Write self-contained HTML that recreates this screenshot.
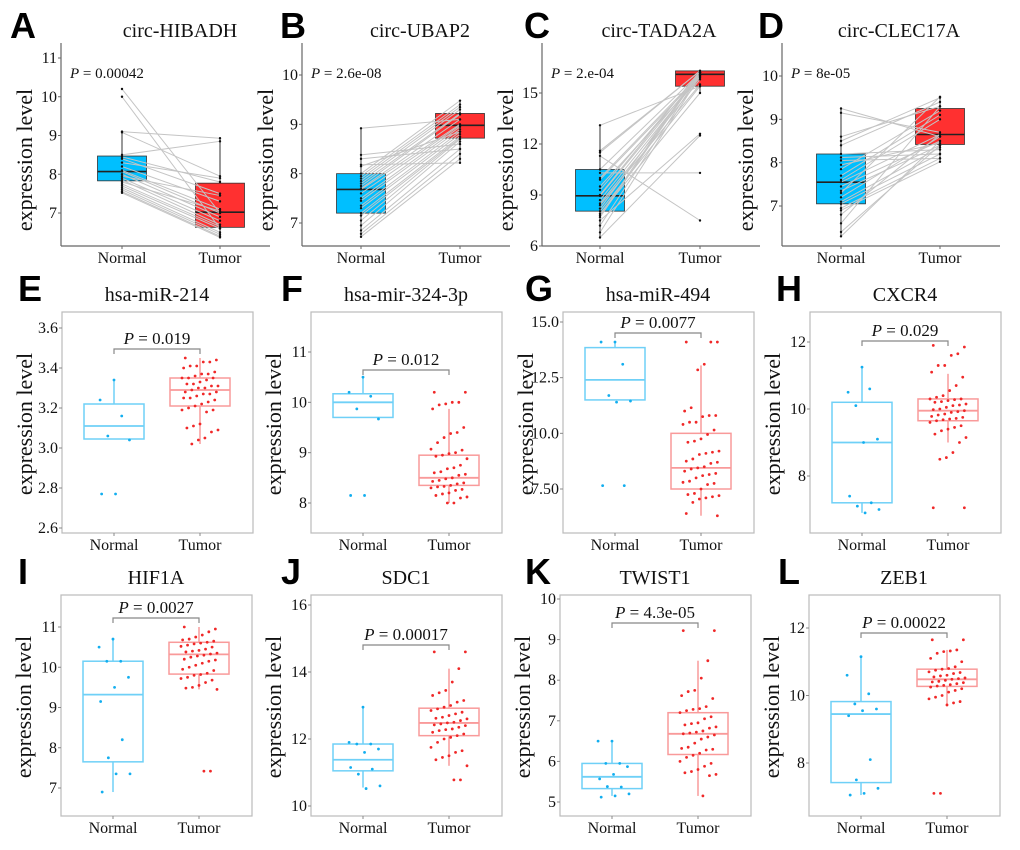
<!DOCTYPE html>
<html><head><meta charset="utf-8"><style>
html,body{margin:0;padding:0;background:#fff;}
svg{display:block;}
text{font-family:"Liberation Serif","DejaVu Serif",serif;fill:#111;}
text.lt{font-family:"Liberation Sans",sans-serif;font-weight:bold;font-size:36px;fill:#000;}
</style></head><body>
<svg id="fig" width="1020" height="850" viewBox="0 0 1020 850" xmlns="http://www.w3.org/2000/svg" font-family="'Liberation Serif', serif"></svg>
<script>
// ---------- Row 1 paired data ----------
const aNormal=[10.2,10.0,9.1,9.08,8.5,8.45,8.4,8.3,8.2,8.1,8.07,8.0,7.95,7.9,7.85,7.8,7.75,7.7,7.65,7.6,7.55,7.52];
const aTumor=[7.0,6.6,8.93,7.95,8.85,7.8,7.5,7.9,7.3,7.1,7.0,6.9,7.45,6.8,6.7,7.05,6.65,6.6,6.5,6.45,6.4,6.37];
const aNormalBox=[7.52,7.83,8.07,8.47,9.08];
const aTumorBox=[6.37,6.63,7.02,7.77,8.93];
const bNormal=[8.92,8.38,8.3,8.18,8.15,8.0,7.95,7.9,7.85,7.8,7.75,7.7,7.68,7.6,7.5,7.45,7.35,7.3,7.2,7.15,7.05,6.95,6.85,6.78,6.72];
const bTumor=[9.1,8.6,8.5,8.22,8.85,9.48,9.4,9.35,9.3,9.22,9.2,9.1,9.0,8.98,8.95,8.9,8.85,8.8,8.75,8.72,8.7,8.65,8.5,8.4,8.3];
const bNormalBox=[6.72,7.2,7.68,8.0,8.92];
const bTumorBox=[8.22,8.72,8.98,9.22,9.48];
const cNormal=[13.1,11.6,11.5,11.3,10.5,10.3,10.0,9.9,9.5,9.3,9.0,8.95,8.7,8.5,8.4,8.2,8.05,7.9,7.8,7.7,7.5,7.2,6.8,6.5];
const cTumor=[15.4,16.3,16.3,7.5,16.2,10.3,16.1,16.0,15.9,16.2,16.3,16.1,16.0,15.8,15.5,16.2,15.4,15.0,16.3,16.2,12.6,16.1,16.0,12.5];
const cNormalBox=[6.5,8.05,8.95,10.5,13.1];
const cTumorBox=[15.0,15.4,16.1,16.3,16.3];
const dNormal=[9.25,9.15,8.6,8.5,8.4,8.2,8.12,8.05,7.95,7.85,7.7,7.6,7.55,7.45,7.35,7.3,7.2,7.1,7.05,6.95,6.9,6.8,6.6,6.4,6.3];
const dTumor=[8.6,8.7,9.3,9.5,9.4,8.3,8.2,8.1,8.45,9.2,9.1,9.0,8.65,8.5,8.4,9.52,8.6,8.35,8.2,8.1,8.02,8.65,9.3,8.4,8.5];
const dNormalBox=[6.3,7.05,7.55,8.2,9.25];
const dTumorBox=[8.02,8.42,8.65,9.25,9.52];
// ---------- Rows 2-3 data ----------
const eNormalBox=[3.045,3.045,3.11,3.22,3.34], eTumorBox=[3.02,3.21,3.29,3.35,3.45];
const eNormalPts=[3.34,3.24,3.16,3.06,3.04,2.77,2.77];
const eTumorPts=[3.45,3.44,3.43,3.43,3.41,3.41,3.40,3.38,3.37,3.37,3.36,3.35,3.35,3.35,3.34,3.33,3.32,3.32,3.31,3.31,3.30,3.30,3.29,3.28,3.28,3.27,3.27,3.26,3.25,3.25,3.24,3.23,3.22,3.21,3.20,3.19,3.19,3.18,3.12,3.11,3.10,3.09,3.08,3.05,3.04,3.02];
const fNormalBox=[9.7,9.7,10.0,10.17,10.5], fTumorBox=[8.0,8.35,8.5,8.95,9.87];
const fNormalPts=[10.5,10.2,10.12,9.87,9.67,8.15,8.15];
const fTumorPts=[10.2,10.2,10.0,10.0,9.97,9.95,9.87,9.5,9.4,9.38,9.3,9.2,9.07,9.05,9.0,8.98,8.95,8.93,8.88,8.75,8.7,8.68,8.62,8.6,8.57,8.55,8.5,8.48,8.45,8.43,8.4,8.38,8.35,8.33,8.32,8.3,8.27,8.25,8.2,8.18,8.15,8.12,8.1,8.0,8.0];
const gNormalBox=[11.5,11.5,12.4,13.85,14.1], gTumorBox=[6.3,7.5,8.45,10.0,13.05];
const gNormalPts=[14.1,14.1,13.1,11.7,11.45,11.4,7.65,7.65];
const gTumorPts=[14.1,14.1,14.1,13.1,12.85,11.15,11.0,10.8,10.8,10.75,10.5,10.5,10.4,10.15,9.95,9.75,9.65,9.6,9.2,9.15,9.1,9.05,8.85,8.75,8.7,8.65,8.5,8.45,8.4,8.3,8.2,8.15,8.1,8.0,7.85,7.8,7.75,7.7,7.5,7.3,7.25,7.2,7.15,7.1,7.05,6.9,6.4,6.3];
const hNormalBox=[6.9,7.2,9.0,10.2,11.25], hTumorBox=[9.0,9.65,9.95,10.3,11.05];
const hNormalPts=[11.25,10.5,10.6,10.1,9.1,9.0,7.4,7.2,7.1,7.0,6.9];
const hTumorPts=[11.9,11.85,11.65,11.6,11.3,11.3,11.1,10.95,10.7,10.55,10.4,10.35,10.3,10.3,10.28,10.25,10.22,10.2,10.15,10.12,10.1,10.05,10.0,9.98,9.95,9.92,9.9,9.85,9.82,9.78,9.75,9.72,9.7,9.68,9.65,9.6,9.5,9.45,9.4,9.35,9.25,9.15,9.0,8.7,8.55,8.5,7.05,7.05];
const iNormalBox=[6.9,7.65,9.32,10.15,10.7], iTumorBox=[9.45,9.83,10.32,10.62,11.0];
const iNormalPts=[10.7,10.5,10.15,10.15,9.75,9.5,9.15,8.2,7.75,7.35,7.35,6.9];
const iTumorPts=[11.0,10.95,10.88,10.8,10.75,10.7,10.68,10.65,10.62,10.6,10.58,10.55,10.52,10.5,10.45,10.42,10.4,10.38,10.35,10.33,10.3,10.28,10.25,10.2,10.18,10.15,10.1,10.05,10.0,9.95,9.92,9.85,9.82,9.8,9.75,9.72,9.68,9.62,9.55,9.5,9.48,9.45,7.42,7.42];
const jNormalBox=[10.55,11.05,11.38,11.85,12.95], jTumorBox=[11.2,12.1,12.48,12.92,14.1];
const jNormalPts=[12.95,11.9,11.85,11.85,11.7,11.6,11.15,11.1,10.95,10.6,10.52];
const jTumorPts=[14.6,14.6,14.1,13.7,13.45,13.38,13.3,13.15,13.1,13.0,12.95,12.9,12.85,12.8,12.75,12.7,12.65,12.62,12.6,12.55,12.5,12.48,12.45,12.42,12.4,12.35,12.3,12.28,12.25,12.2,12.15,12.1,12.05,12.0,11.9,11.75,11.65,11.6,11.5,11.45,11.38,11.2,10.78,10.78];
const kNormalBox=[5.15,5.33,5.62,5.95,6.5], kTumorBox=[5.15,6.17,6.68,7.2,8.48];
const kNormalPts=[6.5,6.5,5.95,5.95,5.87,5.68,5.57,5.37,5.38,5.2,5.15,5.12];
const kTumorPts=[9.22,9.22,8.48,8.05,7.75,7.72,7.62,7.55,7.35,7.3,7.28,7.25,7.2,7.1,7.05,6.95,6.93,6.9,6.85,6.82,6.75,6.72,6.7,6.68,6.65,6.6,6.55,6.45,6.35,6.32,6.3,6.28,6.2,6.15,6.1,6.0,5.95,5.88,5.8,5.75,5.72,5.68,5.65,5.15];
const lNormalBox=[7.05,7.42,9.45,9.82,11.15], lTumorBox=[9.7,10.27,10.48,10.78,11.35];
const lNormalPts=[11.15,10.6,10.05,9.75,9.6,9.55,9.4,8.1,7.5,7.25,7.1,7.05];
const lTumorPts=[11.65,11.65,11.35,11.32,11.3,11.25,11.1,11.0,10.85,10.8,10.78,10.75,10.7,10.68,10.65,10.6,10.58,10.55,10.52,10.5,10.48,10.45,10.42,10.4,10.38,10.35,10.32,10.3,10.28,10.25,10.2,10.15,10.1,10.0,9.95,9.9,9.82,9.78,9.72,7.1,7.1];
// tick labels
const aTicks=[7,8,9,10,11], bTicks=[7,8,9,10], cTicks=[6,9,12,15], dTicks=[7,8,9,10];
const eTicks=["2.6","2.8","3.0","3.2","3.4","3.6"], fTicks=["8","9","10","11"], gTicks=["7.50","10.0","12.5","15.0"], hTicks=["8","10","12"];
const iTicks=["7","8","9","10","11"], jTicks=["10","12","14","16"], kTicks=["5","6","7","8","9","10"], lTicks=["8","10","12"];
const categories=["Normal","Tumor"];

const NS="http://www.w3.org/2000/svg";
const SERIF="'Liberation Serif', 'DejaVu Serif', serif";
const svg=document.getElementById('fig');
function mk(parent,tag,attrs,name,txt){
  const el=document.createElementNS(NS,tag);
  if(tag==='text') el.setAttribute('font-family',SERIF);
  for(const k in attrs) el.setAttribute(k,attrs[k]);
  
  
  if(txt!==undefined) el.textContent=txt;
  parent.appendChild(el);
  return el;
}
function lin(v1,p1,v2,p2){return v=>p1+(v-v1)*(p2-p1)/(v2-v1);}
function jit(i,w){return (((i*37+11)%23)/22-0.5)*w;}
function letter(t,x,y){mk(svg,'text',{x:x,y:y,class:'lt','font-family':"'Liberation Sans', sans-serif",'font-weight':'bold','font-size':36},'panel-label-'+t.toLowerCase(),t);}
function title(t,x,y){mk(svg,'text',{x:x,y:y,'text-anchor':'middle','font-size':20},'panel-title',t);}
function ylabel(x,y){mk(svg,'text',{x:x,y:y,'text-anchor':'middle','font-size':22,transform:'rotate(-90 '+x+' '+y+')'},'y-axis-title','expression level');}
function pval(g,x,y,p,anchor,size){
  const t=mk(g,'text',{x:x,y:y,'text-anchor':anchor,'font-size':size},'p-value');
  const s1=document.createElementNS(NS,'tspan');
  s1.setAttribute('font-style','italic');
  s1.textContent='P';
  t.appendChild(s1);
  t.appendChild(document.createTextNode(' = '+p));
}

// Row 1 panels
function paired(cfg){
  const g=mk(svg,'g',{},'panel-'+cfg.id);
  const y=lin(cfg.v1,cfg.p1,cfg.v2,cfg.p2);
  const xs=[cfg.ax+cfg.nOff,cfg.ax+cfg.tOff], bottom=246, hw=24.5;
  mk(g,'line',{x1:cfg.ax,y1:43,x2:cfg.ax,y2:bottom,stroke:'#666','stroke-width':1.2},'y-axis-line');
  mk(g,'line',{x1:cfg.ax,y1:bottom,x2:cfg.xe,y2:bottom,stroke:'#666','stroke-width':1.2},'x-axis-line');
  cfg.ticks.forEach(t=>{
    mk(g,'line',{x1:cfg.ax-3,x2:cfg.ax,y1:y(t),y2:y(t),stroke:'#666'},'y-tick');
    mk(g,'text',{x:cfg.ax-4,y:y(t)+5,'text-anchor':'end','font-size':16},'y-tick-label',String(t));
  });
  categories.forEach((c,i)=>{
    mk(g,'line',{x1:xs[i],x2:xs[i],y1:bottom,y2:bottom+3,stroke:'#666'},'x-tick');
    mk(g,'text',{x:xs[i],y:bottom+17,'text-anchor':'middle','font-size':16},'x-tick-label-'+c.toLowerCase(),c);
  });
  [cfg.nb,cfg.tb].forEach((b,i)=>{
    mk(g,'line',{x1:xs[i],x2:xs[i],y1:y(b[0]),y2:y(b[4]),stroke:'#555','stroke-width':1.2},'whisker-'+categories[i].toLowerCase());
    mk(g,'rect',{x:xs[i]-hw,y:y(b[3]),width:hw*2,height:y(b[1])-y(b[3]),fill:i?'#FF3030':'#00BFFF',stroke:'#333','stroke-width':0.8},'box-'+categories[i].toLowerCase());
    mk(g,'line',{x1:xs[i]-hw,x2:xs[i]+hw,y1:y(b[2]),y2:y(b[2]),stroke:'#222','stroke-width':1.6},'median-'+categories[i].toLowerCase());
  });
  cfg.n.forEach((v,i)=>{
    mk(g,'line',{x1:xs[0],y1:y(v),x2:xs[1],y2:y(cfg.t[i]),stroke:'#c4c4c4','stroke-width':1},'pair-line');
  });
  cfg.n.forEach(v=>mk(g,'circle',{cx:xs[0],cy:y(v),r:1.2,fill:'#111'},'point-normal'));
  cfg.t.forEach(v=>mk(g,'circle',{cx:xs[1],cy:y(v),r:1.2,fill:'#111'},'point-tumor'));
  pval(g,cfg.ax+9,78,cfg.p,'start',15);
  title(cfg.title,cfg.tx,37); ylabel(cfg.ax-29,160); letter(cfg.id,cfg.lx,38);
}
paired({id:'A',ax:61,xe:270,nOff:61,tOff:159,v1:11,p1:58,v2:7,p2:213,ticks:aTicks,n:aNormal,t:aTumor,nb:aNormalBox,tb:aTumorBox,p:'0.00042',title:'circ-HIBADH',tx:180,lx:10});
paired({id:'B',ax:302,xe:510,nOff:59,tOff:158,v1:10,p1:75,v2:7,p2:223,ticks:bTicks,n:bNormal,t:bTumor,nb:bNormalBox,tb:bTumorBox,p:'2.6e-08',title:'circ-UBAP2',tx:420,lx:280});
paired({id:'C',ax:542,xe:760,nOff:58,tOff:158,v1:15,p1:93,v2:6,p2:246,ticks:cTicks,n:cNormal,t:cTumor,nb:cNormalBox,tb:cTumorBox,p:'2.e-04',title:'circ-TADA2A',tx:659,lx:524});
paired({id:'D',ax:782,xe:1000,nOff:59,tOff:158,v1:10,p1:76,v2:7,p2:206,ticks:dTicks,n:dNormal,t:dTumor,nb:dNormalBox,tb:dTumorBox,p:'8e-05',title:'circ-CLEC17A',tx:899,lx:758});

// Rows 2-3 panels
function jitterPanel(cfg){
  const g=mk(svg,'g',{},'panel-'+cfg.id);
  const y=lin(cfg.v1,cfg.p1,cfg.v2,cfg.p2);
  const L=cfg.left,R=L+191,T=cfg.top,B=T+221,xs=[L+52,L+138],hw=30;
  const cols=['#6FD0F7','#F99A9A'], pc=['#12AEEF','#F02828'];
  mk(g,'rect',{x:L,y:T,width:R-L,height:B-T,fill:'none',stroke:'#bbb','stroke-width':1.2},'plot-frame');
  cfg.ticks.forEach(t=>{
    const v=parseFloat(t);
    mk(g,'line',{x1:L-3,x2:L,y1:y(v),y2:y(v),stroke:'#888'},'y-tick');
    mk(g,'text',{x:L-4,y:y(v)+5,'text-anchor':'end','font-size':16},'y-tick-label',t);
  });
  categories.forEach((c,i)=>{
    mk(g,'line',{x1:xs[i],x2:xs[i],y1:B,y2:B+3,stroke:'#888'},'x-tick');
    mk(g,'text',{x:xs[i],y:B+17,'text-anchor':'middle','font-size':16},'x-tick-label-'+c.toLowerCase(),c);
  });
  [cfg.nb,cfg.tb].forEach((b,i)=>{
    const w=cols[i];
    mk(g,'line',{x1:xs[i],x2:xs[i],y1:y(b[0]),y2:y(b[1]),stroke:w,'stroke-width':1.5},'lower-whisker-'+categories[i].toLowerCase());
    mk(g,'line',{x1:xs[i],x2:xs[i],y1:y(b[3]),y2:y(b[4]),stroke:w,'stroke-width':1.5},'upper-whisker-'+categories[i].toLowerCase());
    mk(g,'rect',{x:xs[i]-hw,y:y(b[3]),width:hw*2,height:y(b[1])-y(b[3]),fill:'none',stroke:w,'stroke-width':1.5},'box-'+categories[i].toLowerCase());
    mk(g,'line',{x1:xs[i]-hw,x2:xs[i]+hw,y1:y(b[2]),y2:y(b[2]),stroke:w,'stroke-width':1.8},'median-'+categories[i].toLowerCase());
  });
  cfg.np.forEach((v,i)=>mk(g,'circle',{cx:xs[0]+jit(i,34),cy:y(v),r:1.4,fill:pc[0]},'point-normal'));
  cfg.tp.forEach((v,i)=>mk(g,'circle',{cx:xs[1]+jit(i*3+1,36),cy:y(v),r:1.4,fill:pc[1]},'point-tumor'));
  const by=cfg.br;
  mk(g,'path',{d:'M'+xs[0]+' '+(by+5)+'V'+by+'H'+xs[1]+'V'+(by+5),fill:'none',stroke:'#888','stroke-width':1.2},'significance-bracket');
  pval(g,(xs[0]+xs[1])/2,by-5,cfg.p,'middle',17);
  title(cfg.title,L+95,T-11); ylabel(L-30,T+112); letter(cfg.id,cfg.lx,T-11);
}
jitterPanel({id:'E',left:62,top:312,v1:3.6,p1:328,v2:2.6,p2:528,ticks:eTicks,nb:eNormalBox,tb:eTumorBox,np:eNormalPts,tp:eTumorPts,br:349,p:'0.019',title:'hsa-miR-214',lx:18});
jitterPanel({id:'F',left:311,top:312,v1:11,p1:352,v2:8,p2:503,ticks:fTicks,nb:fNormalBox,tb:fTumorBox,np:fNormalPts,tp:fTumorPts,br:370,p:'0.012',title:'hsa-mir-324-3p',lx:281});
jitterPanel({id:'G',left:563,top:312,v1:15,p1:322,v2:7.5,p2:489,ticks:gTicks,nb:gNormalBox,tb:gTumorBox,np:gNormalPts,tp:gTumorPts,br:333,p:'0.0077',title:'hsa-miR-494',lx:525});
jitterPanel({id:'H',left:810,top:312,v1:12,p1:342,v2:8,p2:476,ticks:hTicks,nb:hNormalBox,tb:hTumorBox,np:hNormalPts,tp:hTumorPts,br:341,p:'0.029',title:'CXCR4',lx:776});
jitterPanel({id:'I',left:61,top:595,v1:11,p1:627,v2:7,p2:788,ticks:iTicks,nb:iNormalBox,tb:iTumorBox,np:iNormalPts,tp:iTumorPts,br:618,p:'0.0027',title:'HIF1A',lx:18});
jitterPanel({id:'J',left:311,top:595,v1:16,p1:605,v2:10,p2:806,ticks:jTicks,nb:jNormalBox,tb:jTumorBox,np:jNormalPts,tp:jTumorPts,br:645,p:'0.00017',title:'SDC1',lx:281});
jitterPanel({id:'K',left:560,top:595,v1:10,p1:599,v2:5,p2:802,ticks:kTicks,nb:kNormalBox,tb:kTumorBox,np:kNormalPts,tp:kTumorPts,br:623,p:'4.3e-05',title:'TWIST1',lx:525});
jitterPanel({id:'L',left:809,top:595,v1:12,p1:628,v2:8,p2:763,ticks:lTicks,nb:lNormalBox,tb:lTumorBox,np:lNormalPts,tp:lTumorPts,br:633,p:'0.00022',title:'ZEB1',lx:778});
</script>
</body></html>
